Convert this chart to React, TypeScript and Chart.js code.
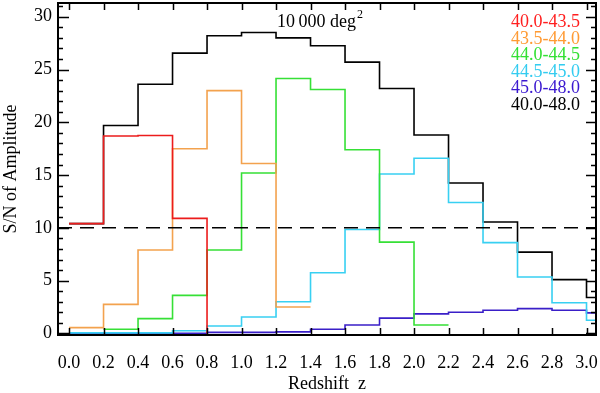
import React, { useEffect, useRef } from "react";
import { Chart, registerables } from "chart.js";
Chart.register(...registerables);

// Redshift bin edges (last bin is partial, ends at the plot edge)
const binEdges = [0.0, 0.2, 0.4, 0.6, 0.8, 1.0, 1.2, 1.4, 1.6, 1.8, 2.0, 2.2, 2.4, 2.6, 2.8, 3.0, 3.055];

// S/N per bin, each series starts at the bin edge given by its start index
const labels = ["40.0-43.5", "43.5-44.0", "44.0-44.5", "44.5-45.0", "45.0-48.0", "40.0-48.0"];
const lineColors = ["#ec1c1c", "#f3a24e", "#36e036", "#38d0f2", "#3a1fc8", "#000000"];
const textColors = ["#ff1f1f", "#ff9a33", "#33e033", "#33ccf0", "#3a18d0", "#000000"];

const snRed = [10.4, 18.7, 18.75, 10.9];
const snOrange = [0.55, 2.75, 7.9, 17.5, 23.0, 16.1, 2.5];
const snGreen = [0.4, 1.4, 3.6, 7.9, 15.2, 24.15, 23.1, 17.4, 8.65, 0.8];
const snCyan = [0.05, 0.05, 0.05, 0.25, 0.7, 1.55, 3.0, 5.75, 9.85, 15.1, 16.6, 12.4, 8.6, 5.35, 2.9, 1.25];
const snBlue = [0.0, 0.0, 0.0, 0.0, 0.1, 0.1, 0.15, 0.4, 0.8, 1.45, 1.85, 2.0, 2.2, 2.35, 2.2, 1.95];
const snTotal = [10.4, 19.7, 23.6, 26.55, 28.2, 28.5, 28.0, 27.25, 25.7, 23.2, 18.8, 14.25, 10.55, 7.7, 5.1, 3.4];

const startIdx = [0, 0, 1, 0, 0, 0];
const dropToZero = [true, false, false, false, false, false];

const threshold = 10;
const xTickValues = [0.0, 0.2, 0.4, 0.6, 0.8, 1.0, 1.2, 1.4, 1.6, 1.8, 2.0, 2.2, 2.4, 2.6, 2.8, 3.0];
const yTickValues = [0, 5, 10, 15, 20, 25, 30];
const yMinorValues = [1, 2, 3, 4, 6, 7, 8, 9, 11, 12, 13, 14, 16, 17, 18, 19, 21, 22, 23, 24, 26, 27, 28, 29, 31];

const X_MIN = -0.064;
const X_MAX = 3.055;
const Y_MIN = -0.15;
const Y_MAX = 31.3;

function steps(values: number[], start: number, drop: boolean) {
  const pts: { x: number; y: number }[] = [];
  values.forEach((v, i) => pts.push({ x: binEdges[start + i], y: v }));
  const endX = binEdges[start + values.length];
  pts.push({ x: endX, y: values[values.length - 1] });
  if (drop) pts.push({ x: endX, y: 0 });
  return pts;
}

const FONT = "'Liberation Serif', 'Times New Roman', serif";

const decorPlugin = {
  id: "decor",
  afterDatasetsDraw(chart: any) {
    const ctx = chart.ctx;
    const { left, right, top, bottom } = chart.chartArea;
    const xs = chart.scales.x;
    const ys = chart.scales.y;
    ctx.save();
    // threshold dashed line
    ctx.strokeStyle = "#000";
    ctx.lineWidth = 1.5;
    ctx.setLineDash([14, 8]);
    const yt = ys.getPixelForValue(threshold);
    ctx.beginPath();
    ctx.moveTo(left, yt);
    ctx.lineTo(right, yt);
    ctx.stroke();
    ctx.setLineDash([]);
    // frame
    ctx.lineWidth = 2;
    ctx.strokeRect(left, top, right - left, bottom - top);
    // ticks
    ctx.lineWidth = 1.5;
    ctx.beginPath();
    xTickValues.forEach((v) => {
      const px = Math.round(xs.getPixelForValue(v)) + 0.5;
      ctx.moveTo(px, bottom);
      ctx.lineTo(px, bottom - 7);
      ctx.moveTo(px, top);
      ctx.lineTo(px, top + 7);
    });
    yTickValues.forEach((v) => {
      const py = Math.round(ys.getPixelForValue(v)) + 0.5;
      ctx.moveTo(left, py);
      ctx.lineTo(left + 11, py);
      ctx.moveTo(right, py);
      ctx.lineTo(right - 10, py);
    });
    yMinorValues.forEach((v) => {
      const py = Math.round(ys.getPixelForValue(v)) + 0.5;
      if (py < top) return;
      ctx.moveTo(left, py);
      ctx.lineTo(left + 5, py);
      ctx.moveTo(right, py);
      ctx.lineTo(right - 5, py);
    });
    ctx.stroke();
    // title text
    ctx.fillStyle = "#000";
    ctx.textBaseline = "alphabetic";
    ctx.textAlign = "left";
    ctx.font = `18px ${FONT}`;
    const t = "10\u2009000 deg";
    ctx.fillText(t, 277, 27);
    const w = ctx.measureText(t).width;
    ctx.font = `12px ${FONT}`;
    ctx.fillText("2", 277 + w + 1, 18);
    // legend
    ctx.font = `18px ${FONT}`;
    ctx.textAlign = "right";
    labels.forEach((lab, i) => {
      ctx.fillStyle = textColors[i];
      ctx.fillText(lab, 580, 27 + i * 16.5);
    });
    ctx.restore();
  },
};

export default function App() {
  const ref = useRef<HTMLCanvasElement>(null);
  useEffect(() => {
    if (!ref.current) return;
    const series = [snRed, snOrange, snGreen, snCyan, snBlue, snTotal];
    const datasets = series.map((vals, i) => ({
      label: labels[i],
      data: steps(vals, startIdx[i], dropToZero[i]),
      borderColor: lineColors[i],
      backgroundColor: lineColors[i],
      borderWidth: 1.6,
      pointRadius: 0,
      stepped: "before" as const,
      fill: false,
    }));
    const chart = new Chart(ref.current, {
      type: "line",
      data: { datasets },
      options: {
        animation: false,
        responsive: false,
        maintainAspectRatio: false,
        layout: { padding: { top: 3, right: 4, left: 0, bottom: 0 } },
        plugins: { legend: { display: false }, tooltip: { enabled: false } },
        scales: {
          x: {
            type: "linear",
            min: X_MIN,
            max: X_MAX,
            afterBuildTicks: (s: any) => {
              s.ticks = xTickValues.map((v) => ({ value: v }));
            },
            afterFit: (s: any) => {
              s.height = 58;
              s.paddingLeft = 0;
              s.paddingRight = 0;
            },
            grid: { display: false, drawTicks: false },
            border: { display: false },
            ticks: {
              color: "#000",
              font: { family: FONT, size: 18 },
              padding: 17,
              maxRotation: 0,
              autoSkip: false,
              callback: (v: any) => Number(v).toFixed(1),
            },
            title: {
              display: true,
              text: "Redshift  z",
              color: "#000",
              font: { family: FONT, size: 18 },
              padding: { top: 0, bottom: -2 },
            },
          },
          y: {
            type: "linear",
            min: Y_MIN,
            max: Y_MAX,
            afterBuildTicks: (s: any) => {
              s.ticks = yTickValues.map((v) => ({ value: v }));
            },
            afterFit: (s: any) => {
              s.width = 58;
              s.paddingTop = 0;
              s.paddingBottom = 0;
            },
            grid: { display: false, drawTicks: false },
            border: { display: false },
            ticks: {
              color: "#000",
              font: { family: FONT, size: 18 },
              padding: 6,
              callback: (v: any) => String(v),
            },
            title: {
              display: true,
              text: "S/N of Amplitude",
              color: "#000",
              font: { family: FONT, size: 18 },
              padding: 0,
            },
          },
        },
      },
      plugins: [decorPlugin],
    });
    return () => chart.destroy();
  }, []);
  return (
    <div style={{ position: "absolute", left: 0, top: 0, width: 600, height: 393, background: "#fff" }}>
      <canvas ref={ref} width={600} height={393} style={{ width: 600, height: 393, display: "block" }} />
    </div>
  );
}
